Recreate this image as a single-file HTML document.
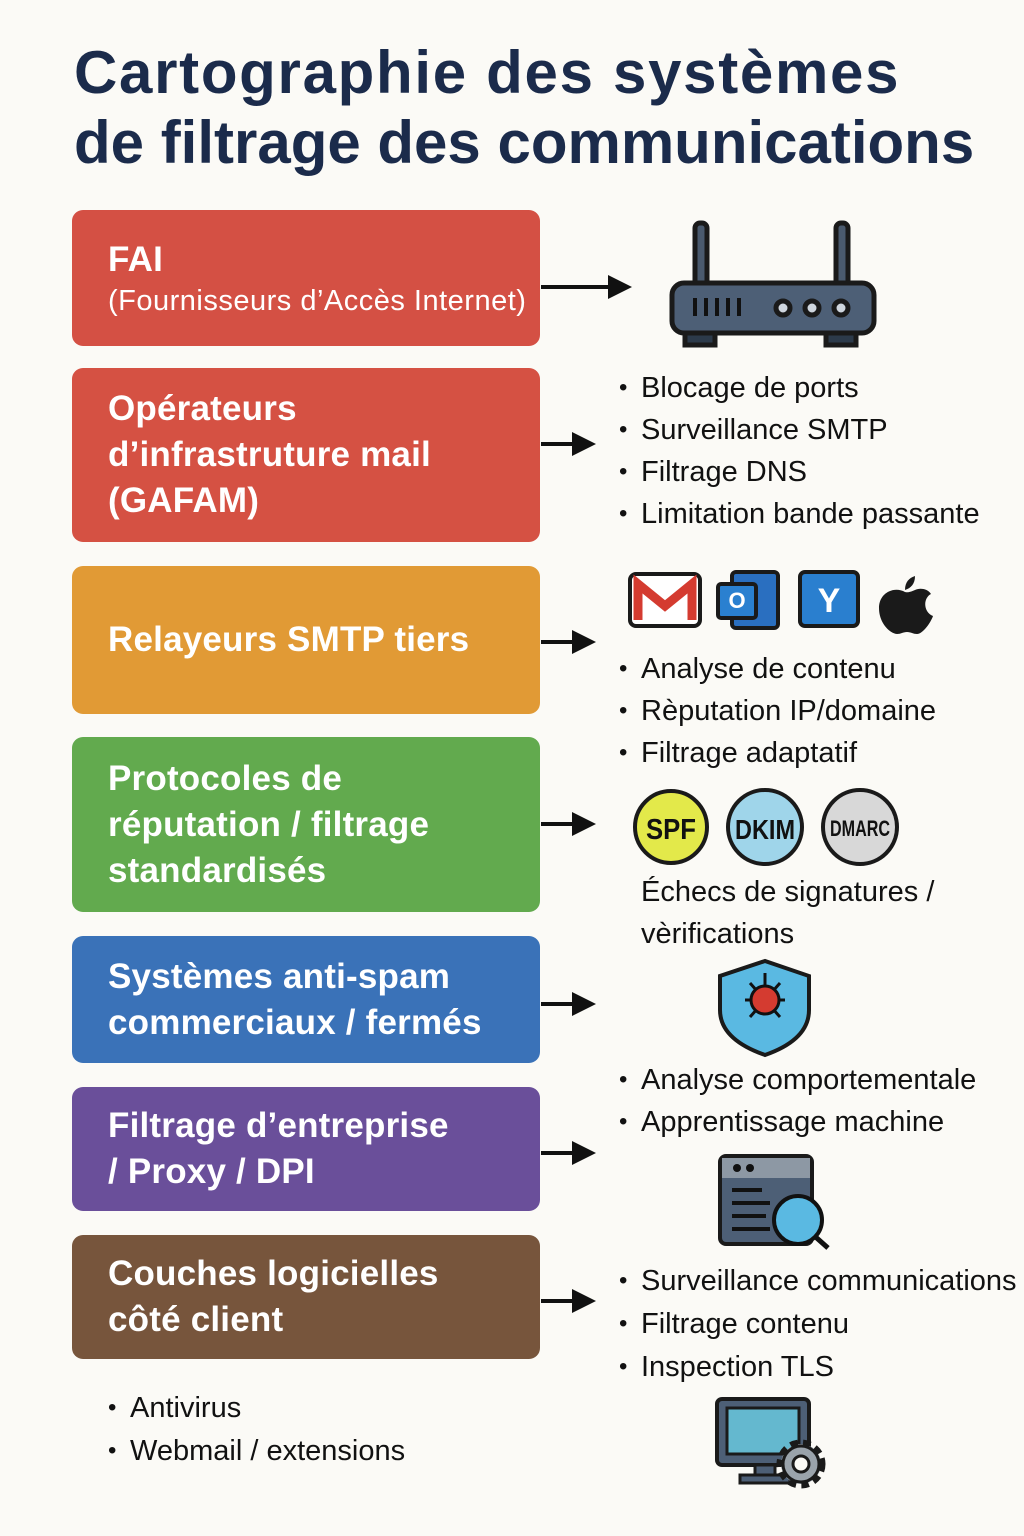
<!DOCTYPE html>
<html><head><meta charset="utf-8"><style>
body{margin:0;width:1024px;height:1536px;background:#fbfaf6;position:relative;overflow:hidden;font-family:"Liberation Sans",sans-serif}
.t{position:absolute;left:74px;font-weight:bold;font-size:60px;color:#1b2b4b;white-space:nowrap}
.b{position:absolute;left:72px;width:468px;border-radius:11px;color:#fff;box-sizing:border-box;padding-left:36px;display:flex;flex-direction:column;justify-content:center;font-size:35px;line-height:46px;font-weight:bold;letter-spacing:0.2px}
.l{position:absolute;font-size:29px;color:#111;white-space:nowrap;line-height:30px}
.l.bu::before{content:"•";position:absolute;left:-22px;font-size:24px}
svg{position:absolute;left:0;top:0}
</style></head><body>
<div class="t" style="top:38px;letter-spacing:1.7px">Cartographie des systèmes</div>
<div class="t" style="top:108px;letter-spacing:0px">de filtrage des communications</div>

<div class="b" style="top:210px;height:136px;background:#d45044"><div>FAI</div><div style="font-size:29px;line-height:36px;font-weight:normal;letter-spacing:0.5px">(Fournisseurs d’Accès Internet)</div></div>
<div class="b" style="top:368px;height:174px;background:#d55143">Opérateurs<br>d’infrastruture mail<br>(GAFAM)</div>
<div class="b" style="top:566px;height:148px;background:#e19a35">Relayeurs SMTP tiers</div>
<div class="b" style="top:737px;height:175px;background:#62aa4e">Protocoles de<br>réputation / filtrage<br>standardisés</div>
<div class="b" style="top:936px;height:127px;background:#3a72b8">Systèmes anti-spam<br>commerciaux / fermés</div>
<div class="b" style="top:1087px;height:124px;background:#6a4f9a">Filtrage d’entreprise<br>/ Proxy / DPI</div>
<div class="b" style="top:1235px;height:124px;background:#77553c">Couches logicielles<br>côté client</div>

<div class="l bu" style="left:641px;top:373px">Blocage de ports</div>
<div class="l bu" style="left:641px;top:415px">Surveillance SMTP</div>
<div class="l bu" style="left:641px;top:457px">Filtrage DNS</div>
<div class="l bu" style="left:641px;top:499px">Limitation bande passante</div>
<div class="l bu" style="left:641px;top:654px">Analyse de contenu</div>
<div class="l bu" style="left:641px;top:696px">Rèputation IP/domaine</div>
<div class="l bu" style="left:641px;top:738px">Filtrage adaptatif</div>
<div class="l" style="left:641px;top:877px">Échecs de signatures /</div>
<div class="l" style="left:641px;top:919px">vèrifications</div>
<div class="l bu" style="left:641px;top:1065px">Analyse comportementale</div>
<div class="l bu" style="left:641px;top:1107px">Apprentissage machine</div>
<div class="l bu" style="left:641px;top:1266px">Surveillance communications</div>
<div class="l bu" style="left:641px;top:1309px">Filtrage contenu</div>
<div class="l bu" style="left:641px;top:1352px">Inspection TLS</div>
<div class="l bu" style="left:130px;top:1393px">Antivirus</div>
<div class="l bu" style="left:130px;top:1436px">Webmail / extensions</div>

<svg width="1024" height="1536">
<defs><marker id="a" markerWidth="6" markerHeight="6" refX="3" refY="3" orient="auto"><path d="M0,0L6,3L0,6z" fill="#111"/></marker></defs>
<g stroke="#111" stroke-width="4" marker-end="url(#a)">
<line x1="541" y1="287" x2="620" y2="287"/>
<line x1="541" y1="444" x2="584" y2="444"/>
<line x1="541" y1="642" x2="584" y2="642"/>
<line x1="541" y1="824" x2="584" y2="824"/>
<line x1="541" y1="1004" x2="584" y2="1004"/>
<line x1="541" y1="1153" x2="584" y2="1153"/>
<line x1="541" y1="1301" x2="584" y2="1301"/>
</g>
<g stroke="#1a1a1a" stroke-width="5">
<rect x="695" y="223" width="12" height="65" rx="5" fill="#4a5a6e"/>
<rect x="836" y="223" width="12" height="65" rx="5" fill="#4a5a6e"/>
<rect x="685" y="325" width="30" height="20" fill="#2c3a4a"/>
<rect x="826" y="325" width="30" height="20" fill="#2c3a4a"/>
<rect x="672" y="283" width="202" height="50" rx="12" fill="#4d5f76"/>
<circle cx="783" cy="308" r="7" fill="#cfd6de"/><circle cx="812" cy="308" r="7" fill="#cfd6de"/><circle cx="841" cy="308" r="7" fill="#cfd6de"/>
</g>
<g stroke="#111" stroke-width="4"><line x1="695" y1="298" x2="695" y2="316"/><line x1="706" y1="298" x2="706" y2="316"/><line x1="717" y1="298" x2="717" y2="316"/><line x1="728" y1="298" x2="728" y2="316"/><line x1="739" y1="298" x2="739" y2="316"/></g>
<rect x="630" y="574" width="70" height="52" rx="6" fill="#fff" stroke="#1a1a1a" stroke-width="4"/>
<path d="M638,620V584L665,606L692,584V620" fill="none" stroke="#d43b30" stroke-width="9"/>
<rect x="732" y="572" width="46" height="56" rx="4" fill="#2a6fc0" stroke="#1a1a1a" stroke-width="4"/>
<rect x="718" y="584" width="38" height="34" rx="3" fill="#2a80d0" stroke="#1a1a1a" stroke-width="4"/>
<text x="737" y="608" font-size="22" font-weight="bold" fill="#fff" text-anchor="middle" font-family="Liberation Sans">O</text>
<rect x="800" y="572" width="58" height="54" rx="5" fill="#2a7fcf" stroke="#1a1a1a" stroke-width="4"/>
<text x="829" y="612" font-size="34" font-weight="bold" fill="#fff" text-anchor="middle" font-family="Liberation Sans">Y</text>
<path d="M905,592c-10-6-26,0-26,16c0,16,12,26,18,26c4,0,6-2,10-2s6,2,10,2c6,0,14-12,16-18c-10-4-10-18-2-22c-4-6-12-6-16-4c-3,1-6,3-10,2z" fill="#1a1a1a"/>
<path d="M905,590c0-8,4-12,10-14c0,8-4,12-10,14z" fill="#1a1a1a"/>
<circle cx="671" cy="827" r="36" fill="#e3e94a" stroke="#1a1a1a" stroke-width="4"/>
<text x="671" y="839" font-size="29" font-weight="bold" text-anchor="middle" fill="#111" font-family="Liberation Sans" textLength="50" lengthAdjust="spacingAndGlyphs">SPF</text>
<circle cx="765" cy="827" r="37" fill="#9fd5ea" stroke="#1a1a1a" stroke-width="4"/>
<text x="765" y="839" font-size="28" font-weight="bold" text-anchor="middle" fill="#111" font-family="Liberation Sans" textLength="60" lengthAdjust="spacingAndGlyphs">DKIM</text>
<circle cx="860" cy="827" r="37" fill="#d8d8d8" stroke="#1a1a1a" stroke-width="4"/>
<text x="860" y="836" font-size="22" font-weight="bold" text-anchor="middle" fill="#111" font-family="Liberation Sans" textLength="60" lengthAdjust="spacingAndGlyphs">DMARC</text>
<path d="M765,961L720,976V1010C720,1035,745,1048,765,1055C785,1048,809,1035,809,1010V976Z" fill="#5ab9e2" stroke="#1a1a1a" stroke-width="4"/>
<g stroke="#111" stroke-width="3"><line x1="765" y1="973" x2="765" y2="985"/><line x1="745" y1="1000" x2="785" y2="1000"/><line x1="750" y1="983" x2="780" y2="1017"/><line x1="780" y1="983" x2="750" y2="1017"/></g>
<circle cx="765" cy="1000" r="14" fill="#d43b30" stroke="#111" stroke-width="3"/>
<rect x="720" y="1156" width="92" height="88" rx="6" fill="#4d5f76" stroke="#1a1a1a" stroke-width="4"/>
<rect x="722" y="1158" width="88" height="20" fill="#8d98a4"/>
<circle cx="737" cy="1168" r="4" fill="#111"/><circle cx="750" cy="1168" r="4" fill="#111"/>
<g stroke="#111" stroke-width="4"><line x1="732" y1="1190" x2="762" y2="1190"/><line x1="732" y1="1203" x2="770" y2="1203"/><line x1="732" y1="1216" x2="766" y2="1216"/><line x1="732" y1="1229" x2="770" y2="1229"/></g>
<line x1="810" y1="1232" x2="828" y2="1248" stroke="#111" stroke-width="5"/>
<circle cx="798" cy="1220" r="24" fill="#5ab9e2" stroke="#111" stroke-width="4"/>
<rect x="717" y="1399" width="92" height="66" rx="5" fill="#4d5f76" stroke="#1a1a1a" stroke-width="4"/>
<rect x="727" y="1408" width="72" height="46" fill="#64b8cf" stroke="#1a1a1a" stroke-width="3"/>
<rect x="755" y="1465" width="20" height="12" fill="#4d5f76" stroke="#1a1a1a" stroke-width="3"/>
<rect x="740" y="1475" width="50" height="8" fill="#4d5f76" stroke="#1a1a1a" stroke-width="3"/>
<circle cx="801" cy="1464" r="20" fill="#9aa3ab" stroke="#1a1a1a" stroke-width="9" stroke-dasharray="7 5"/>
<circle cx="801" cy="1464" r="18" fill="#9aa3ab" stroke="#1a1a1a" stroke-width="3"/>
<circle cx="801" cy="1464" r="8" fill="#fbfaf6" stroke="#1a1a1a" stroke-width="3"/>
</svg>
</body></html>
